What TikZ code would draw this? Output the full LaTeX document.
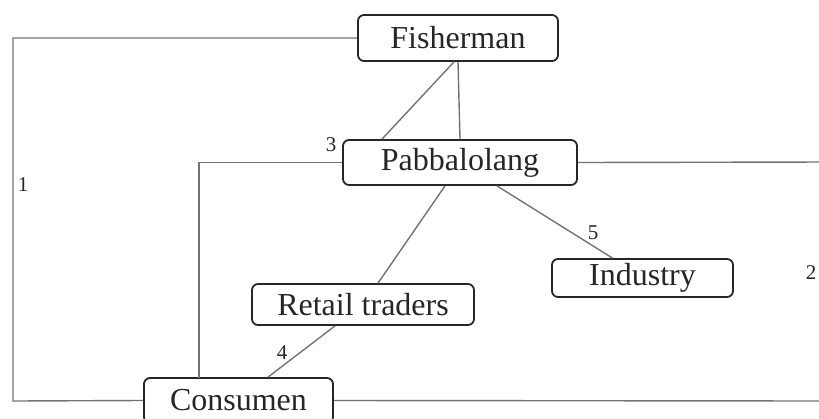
\documentclass[tikz,border=0pt]{standalone}
\usepackage{fontspec}
\setmainfont{Liberation Serif}

\begin{document}
\begin{tikzpicture}[x=1pt,y=-1pt,
    box/.style={draw=black!85,rounded corners=6pt,line width=1.8pt,inner sep=0pt,
      text=black!85,font=\fontsize{32}{38}\selectfont,minimum height=#1},
    box/.default=45pt,
    link/.style={draw=black!55,line width=1.4pt},
    num/.style={text=black!85,font=\fontsize{21}{25}\selectfont,inner sep=0pt}]
    %chaine de commercialisation
\useasboundingbox (0,0) rectangle (819,418);
\clip (0,0) rectangle (819,418);

\node[box=46pt,minimum width=200pt] (fish) at (458,38) {Fisherman};
\node[box,minimum width=234pt] (pabb) at (460,162.5) {Pabbalolang};
\node[box=41pt,minimum width=222pt] (retail) at (363,304.5) {Retail traders};
\node[box=38pt,minimum width=181pt] (ind) at (642.5,278) {Industry};
\node[box,minimum width=189pt] (cons) at (238.5,400.5) {Consumen};

\newcommand{\xLeft}{13}
\newcommand{\xRight}{830}
\coordinate (L) at (\xLeft,401);
\coordinate (P) at (199,378);
\coordinate (R1) at (\xRight,162);
\coordinate (R2) at (\xRight,401);

\draw[link] (fish.west) -| (L) -- (cons.west);
\draw[link] (pabb.west) -| (P);
\draw[link] (pabb.east) -- (R1) -- (R2) -- (cons.east);

\draw[link] (fish.south) -- (pabb.north);
\draw[link] ([xshift=-4]fish.south) -- ([xshift=-78]pabb.north);
\draw[link] ([xshift=-15]pabb.south) -- ([xshift=15]retail.north);
\draw[link] ([xshift=37]pabb.south) -- ([xshift=-30]ind.north);
\draw[link] ([xshift=-28]retail.south) -- ([xshift=29.5]cons.north);

\node[num] (n1) at (23,185) {1};
\node[num] (n2) at (811,273) {2};
\node[num] (n3) at (331,145) {3};
\node[num] (n4) at (282,353) {4};
\node[num] (n5) at (593,233) {5};
\end{tikzpicture}
\end{document}
